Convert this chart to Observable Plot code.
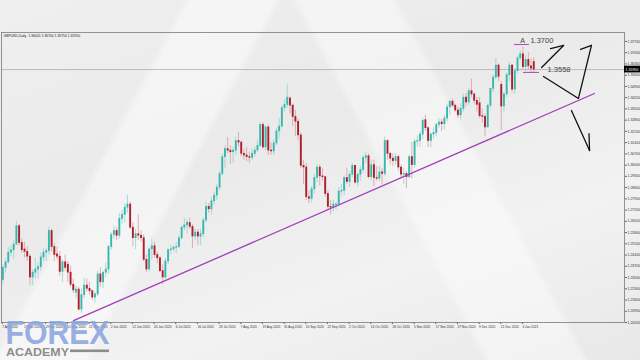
<!DOCTYPE html>
<html><head><meta charset="utf-8">
<script src="https://cdn.jsdelivr.net/npm/d3@7"></script>
<script src="https://cdn.jsdelivr.net/npm/@observablehq/plot@0.6"></script>
<style>
html,body{margin:0;padding:0;width:640px;height:360px;overflow:hidden;}
body{background:
 linear-gradient(118deg, rgba(255,255,255,0) 0%, rgba(255,255,255,0) 22%, rgba(255,255,255,0.45) 23%, rgba(255,255,255,0.45) 33%, rgba(255,255,255,0) 34%),
 linear-gradient(62deg, rgba(255,255,255,0) 58%, rgba(255,255,255,0.4) 59%, rgba(255,255,255,0.4) 70%, rgba(255,255,255,0) 71%),
 linear-gradient(160deg, #efefef 0%, #eaeaea 40%, #f2f2f2 70%, #e8e8e8 100%);
 font-family:"Liberation Sans",Arial,sans-serif;}
#chart{position:absolute;left:0;top:0;}
</style></head>
<body><div id="chart"></div>
<script>
// ---- GBPUSD Daily candles (index 0 = 7 Apr 2020 ... 196 = 8 Jan 2021) ----
const O = [1.2285,1.2360,1.2395,1.2455,1.2470,1.2505,1.2620,1.2515,1.2475,1.2460,1.2430,1.2300,1.2330,1.2350,1.2365,1.2425,1.2455,1.2465,1.2590,1.2490,
1.2445,1.2430,1.2335,1.2395,1.2380,1.2330,1.2255,1.2205,1.2225,1.2100,1.2190,1.2250,1.2230,1.2215,1.2175,1.2195,1.2320,1.2270,1.2330,1.2350,
1.2490,1.2565,1.2590,1.2560,1.2665,1.2690,1.2735,1.2755,1.2610,1.2545,1.2570,1.2560,1.2545,1.2410,1.2350,1.2475,1.2495,1.2440,1.2420,1.2340,
1.2300,1.2400,1.2470,1.2475,1.2485,1.2490,1.2545,1.2610,1.2625,1.2640,1.2615,1.2555,1.2580,1.2555,1.2570,1.2655,1.2740,1.2725,1.2775,1.2810,
1.2860,1.2945,1.3050,1.3100,1.3090,1.3080,1.3090,1.3150,1.3140,1.3070,1.3060,1.3050,1.3045,1.3070,1.3090,1.3120,1.3250,1.3110,1.3235,1.3090,
1.3085,1.3135,1.3210,1.3240,1.3355,1.3375,1.3415,1.3370,1.3300,1.3270,1.3185,1.2995,1.2985,1.2800,1.2790,1.2850,1.2920,1.2985,1.2930,1.2925,
1.2820,1.2740,1.2735,1.2750,1.2755,1.2835,1.2840,1.2920,1.2895,1.2940,1.2995,1.2890,1.2940,1.2970,1.3045,1.3055,1.2925,1.3000,1.2920,1.2915,
1.2955,1.2945,1.3150,1.3070,1.3040,1.3025,1.3050,1.2985,1.2940,1.2945,1.2925,1.3050,1.3000,1.3145,1.3150,1.3190,1.3280,1.3230,1.3150,1.3190,
1.3200,1.3250,1.3265,1.3255,1.3290,1.3360,1.3395,1.3370,1.3340,1.3310,1.3350,1.3420,1.3390,1.3460,1.3440,1.3400,1.3385,1.3305,1.3300,1.3235,
1.3370,1.3475,1.3545,1.3620,1.3500,1.3365,1.3440,1.3560,1.3620,1.3470,1.3585,1.3665,1.3690,1.3610,1.3655,1.3615,1.3642];
const H = [1.2380,1.2420,1.2490,1.2500,1.2530,1.2650,1.2630,1.2540,1.2520,1.2490,1.2440,1.2350,1.2420,1.2390,1.2450,1.2480,1.2480,1.2615,1.2600,1.2510,
1.2490,1.2460,1.2410,1.2440,1.2400,1.2370,1.2290,1.2245,1.2240,1.2230,1.2295,1.2290,1.2270,1.2225,1.2210,1.2340,1.2360,1.2340,1.2390,1.2500,
1.2580,1.2620,1.2610,1.2700,1.2715,1.2760,1.2812,1.2770,1.2640,1.2600,1.2690,1.2590,1.2565,1.2440,1.2485,1.2540,1.2520,1.2460,1.2430,1.2380,
1.2420,1.2480,1.2500,1.2500,1.2520,1.2560,1.2620,1.2670,1.2660,1.2670,1.2630,1.2600,1.2600,1.2600,1.2670,1.2770,1.2760,1.2800,1.2830,1.2880,
1.2960,1.3070,1.3120,1.3170,1.3120,1.3110,1.3175,1.3205,1.3150,1.3100,1.3110,1.3080,1.3100,1.3110,1.3150,1.3265,1.3265,1.3245,1.3250,1.3140,
1.3160,1.3230,1.3290,1.3370,1.3410,1.3505,1.3430,1.3380,1.3340,1.3285,1.3200,1.3030,1.3010,1.2840,1.2870,1.2940,1.3005,1.3000,1.2980,1.2930,
1.2840,1.2780,1.2780,1.2770,1.2860,1.2880,1.2935,1.2980,1.2960,1.3010,1.3000,1.2950,1.2990,1.3060,1.3080,1.3070,1.3030,1.3030,1.2990,1.2990,
1.2980,1.3175,1.3160,1.3080,1.3070,1.3070,1.3060,1.3000,1.2980,1.2960,1.3060,1.3140,1.3160,1.3180,1.3210,1.3290,1.3310,1.3240,1.3200,1.3230,
1.3260,1.3290,1.3285,1.3310,1.3380,1.3400,1.3410,1.3380,1.3360,1.3380,1.3440,1.3445,1.3480,1.3535,1.3450,1.3420,1.3420,1.3350,1.3320,1.3380,
1.3480,1.3560,1.3665,1.3630,1.3520,1.3450,1.3575,1.3640,1.3625,1.3600,1.3680,1.3710,1.3735,1.3680,1.3700,1.3660,1.3670];
const L = [1.2260,1.2330,1.2380,1.2430,1.2410,1.2500,1.2500,1.2450,1.2420,1.2400,1.2250,1.2250,1.2290,1.2290,1.2340,1.2400,1.2400,1.2440,1.2460,1.2400,
1.2410,1.2310,1.2270,1.2340,1.2270,1.2240,1.2200,1.2170,1.2090,1.2075,1.2170,1.2210,1.2190,1.2160,1.2140,1.2180,1.2240,1.2230,1.2300,1.2320,
1.2470,1.2540,1.2530,1.2540,1.2630,1.2640,1.2700,1.2600,1.2490,1.2475,1.2530,1.2520,1.2400,1.2330,1.2335,1.2410,1.2420,1.2385,1.2330,1.2255,
1.2285,1.2380,1.2440,1.2460,1.2450,1.2480,1.2530,1.2590,1.2570,1.2600,1.2480,1.2530,1.2500,1.2500,1.2550,1.2640,1.2700,1.2690,1.2750,1.2780,
1.2840,1.2930,1.2980,1.3070,1.3005,1.3010,1.3060,1.3110,1.3050,1.3030,1.3020,1.3010,1.3030,1.3050,1.3080,1.3110,1.3100,1.3090,1.3060,1.3060,
1.3060,1.3120,1.3160,1.3230,1.3330,1.3350,1.3320,1.3240,1.3180,1.3150,1.2980,1.2880,1.2780,1.2760,1.2765,1.2820,1.2890,1.2870,1.2900,1.2800,
1.2720,1.2690,1.2705,1.2720,1.2740,1.2800,1.2810,1.2880,1.2860,1.2920,1.2880,1.2865,1.2900,1.2950,1.3010,1.2915,1.2900,1.2865,1.2900,1.2900,
1.2875,1.2930,1.3030,1.3000,1.2990,1.3000,1.2965,1.2915,1.2880,1.2855,1.2915,1.2915,1.2980,1.3110,1.3110,1.3160,1.3210,1.3110,1.3110,1.3160,
1.3180,1.3230,1.3210,1.3220,1.3270,1.3310,1.3360,1.3330,1.3290,1.3280,1.3330,1.3360,1.3370,1.3420,1.3380,1.3330,1.3290,1.3260,1.3175,1.3230,
1.3350,1.3450,1.3530,1.3520,1.3215,1.3330,1.3420,1.3520,1.3450,1.3440,1.3570,1.3650,1.3590,1.3580,1.3590,1.3570,1.3575];
const C = [1.2360,1.2395,1.2455,1.2470,1.2505,1.2620,1.2515,1.2470,1.2460,1.2430,1.2300,1.2330,1.2350,1.2365,1.2425,1.2455,1.2465,1.2590,1.2490,1.2440,
1.2430,1.2335,1.2395,1.2360,1.2330,1.2255,1.2220,1.2225,1.2100,1.2190,1.2250,1.2230,1.2215,1.2175,1.2195,1.2320,1.2270,1.2330,1.2350,1.2490,
1.2565,1.2590,1.2560,1.2665,1.2690,1.2735,1.2755,1.2610,1.2545,1.2570,1.2560,1.2545,1.2410,1.2350,1.2475,1.2495,1.2440,1.2420,1.2340,1.2300,
1.2400,1.2470,1.2475,1.2485,1.2490,1.2545,1.2610,1.2625,1.2640,1.2615,1.2555,1.2580,1.2555,1.2570,1.2655,1.2740,1.2725,1.2775,1.2810,1.2860,
1.2945,1.3050,1.3100,1.3090,1.3080,1.3090,1.3150,1.3140,1.3070,1.3060,1.3050,1.3045,1.3070,1.3090,1.3120,1.3250,1.3110,1.3235,1.3090,1.3085,
1.3135,1.3210,1.3240,1.3355,1.3375,1.3420,1.3370,1.3300,1.3270,1.3185,1.2995,1.2985,1.2800,1.2790,1.2850,1.2920,1.2985,1.2930,1.2925,1.2820,
1.2740,1.2735,1.2755,1.2755,1.2835,1.2840,1.2920,1.2895,1.2940,1.2995,1.2890,1.2940,1.2970,1.3045,1.3055,1.2925,1.3000,1.2920,1.2915,1.2955,
1.2945,1.3150,1.3070,1.3040,1.3025,1.3050,1.2985,1.2940,1.2945,1.2925,1.3050,1.3000,1.3145,1.3150,1.3190,1.3275,1.3230,1.3150,1.3190,1.3200,
1.3250,1.3265,1.3255,1.3290,1.3360,1.3395,1.3370,1.3340,1.3310,1.3350,1.3420,1.3390,1.3460,1.3440,1.3400,1.3375,1.3305,1.3300,1.3235,1.3370,
1.3475,1.3545,1.3620,1.3550,1.3365,1.3440,1.3560,1.3620,1.3470,1.3585,1.3665,1.3690,1.3610,1.3655,1.3615,1.3600,1.3595];

// x-axis: bar index of each date label
const xTicks = [0,8,16,24,32,40,48,56,64,72,80,88,96,104,112,120,128,136,144,152,160,168,176,184,192];
const dateLabels = ["7 Apr 2020","17 Apr 2020","29 Apr 2020","11 May 2020","21 May 2020","2 Jun 2020","12 Jun 2020","24 Jun 2020","6 Jul 2020","16 Jul 2020","28 Jul 2020","7 Aug 2020","19 Aug 2020","31 Aug 2020","10 Sep 2020","22 Sep 2020","2 Oct 2020","14 Oct 2020","26 Oct 2020","5 Nov 2020","17 Nov 2020","27 Nov 2020","9 Dec 2020","21 Dec 2020","4 Jan 2021"];
// y-axis price ticks
const yTicks = [1.2020,1.2090,1.2160,1.2230,1.2300,1.2370,1.2440,1.2510,1.2580,1.2650,1.2720,1.2790,1.2860,1.2930,1.3000,1.3070,1.3140,1.3210,1.3280,1.3350,1.3420,1.3490,1.3560,1.3630,1.3700,1.3770];

// trend line (bar index, price)
const trendI = [26.1, 218.4];
const trendP = [1.2032, 1.3446];
// hand-drawn annotation levels
const levelA = {i1: 188.9, i2: 194.4, p: 1.3751, label: "1.3700"};
const levelB = {i1: 192.2, i2: 198.1, p: 1.3577, label: "1.3558"};
// hand-drawn arrows (bar index, price), one stroke per segment id
const arrowSeg = [0,0, 1,1, 2,2, 3,3, 4,4, 5,5, 6,6];
const arrowI = [198.9,207.0, 202.2,207.0, 199.6,212.5, 212.5,217.3, 213.3,217.3, 209.9,216.6, 216.4,216.6];
const arrowP = [1.3608,1.3745, 1.3726,1.3745, 1.3552,1.3415, 1.3415,1.3745, 1.3720,1.3745, 1.3340,1.3091, 1.3196,1.3091];

const bars = O.map((o, i) => ({i, o, h: H[i], l: L[i], c: C[i], up: C[i] >= o}));
const last = bars[bars.length - 1];
const trend = trendI.map((i, k) => ({i, p: trendP[k]}));
const arrows = arrowI.map((i, k) => ({i, p: arrowP[k], seg: arrowSeg[k]}));

const UP = "#37b8ae", DOWN = "#ad1f2c", UPW = "#93d3ce", DOWNW = "#dc9aa2";
const f5 = d => d.toFixed(5);

const chart = Plot.plot({
  width: 640, height: 360,
  marginTop: 32, marginBottom: 38, marginLeft: 1, marginRight: 16,
  style: {background: "transparent", fontFamily: "Liberation Sans, Arial, sans-serif", color: "#333"},
  x: {domain: [-0.5, 229.5], axis: null},
  y: {domain: [1.2020, 1.38257], axis: null},
  marks: [
    Plot.axisX({ticks: xTicks, tickFormat: d => dateLabels[xTicks.indexOf(d)], tickSize: 2, tickPadding: 1,
      textAnchor: "start", dx: -0.5, fontSize: 3.2, label: null, stroke: "#666", fill: "#333"}),
    Plot.axisY({anchor: "right", ticks: yTicks, tickFormat: f5, tickSize: 2, tickPadding: 1,
      fontSize: 3.5, label: null, stroke: "#666", fill: "#333"}),
    Plot.ruleY([last.c], {stroke: "#9a9a9a", strokeWidth: 0.6}),
    Plot.ruleX(bars, {x: "i", y1: "l", y2: "h", stroke: d => d.up ? UPW : DOWNW, strokeWidth: 0.8}),
    Plot.ruleX(bars, {x: "i", y1: d => Math.min(d.o, d.c) - 0.0002, y2: d => Math.max(d.o, d.c) + 0.0002,
      stroke: d => d.up ? UP : DOWN, strokeWidth: 1.9}),
    Plot.line(trend, {x: "i", y: "p", stroke: "#a43ab9", strokeWidth: 1.3}),
    Plot.ruleY([levelA], {x1: "i1", x2: "i2", y: "p", stroke: "#b84fc0", strokeWidth: 1.1}),
    Plot.ruleY([levelB], {x1: "i1", x2: "i2", y: "p", stroke: "#b84fc0", strokeWidth: 1.1}),
    Plot.text([levelA], {x: 191.9, y: "p", text: () => "A", dy: -4, fontSize: 7, fill: "#444"}),
    Plot.text([levelA], {x: "i2", y: "p", text: "label", dy: -4, dx: 1, textAnchor: "start", fontSize: 7.5, fill: "#444"}),
    Plot.text([levelB], {x: 201.1, y: "p", text: "label", dy: -3, textAnchor: "start", fontSize: 7.5, fill: "#444"}),
    Plot.line(arrows, {x: "i", y: "p", z: "seg", stroke: "#111", strokeWidth: 1.3, strokeLinecap: "round"}),
    Plot.frame({stroke: "#7a7a7a", strokeWidth: 0.8}),
    Plot.rect([last], {x1: 229.5, x2: 236.5, y1: d => d.c - 0.0021, y2: d => d.c + 0.0021, fill: "#000"}),
    Plot.text([last], {x: 229.9, y: "c", text: d => f5(d.c), textAnchor: "start", fontSize: 3.5, fill: "#fff"}),
    Plot.text([last], {frameAnchor: "top-left", text: d => `GBPUSD,Daily  ${f5(d.o)} ${f5(d.h)} ${f5(d.l)} ${f5(d.c)}`,
      dx: 2, dy: 2.5, fontSize: 3.4, fill: "#222"}),
    // logo
    Plot.text(["FOREX"], {frameAnchor: "bottom-left", text: d => d, dx: 4, dy: 21, lineAnchor: "bottom",
      fontSize: 34, fontWeight: "bold", fill: "#8aa5df", fillOpacity: 0.9}),
    Plot.text(["ACADEMY"], {frameAnchor: "bottom-left", text: d => d, dx: 4.5, dy: 33.5, lineAnchor: "bottom",
      fontSize: 11, fontWeight: "bold", fill: "#8d8d8d"})
  ]
});
document.getElementById("chart").appendChild(chart);

// stretch logo words to their widths and add the grey bar of the logo
const svg = d3.select(chart);
svg.selectAll("text").filter(function(){ return this.textContent === "FOREX"; })
  .attr("textLength", 104).attr("lengthAdjust", "spacingAndGlyphs");
svg.selectAll("text").filter(function(){ return this.textContent === "ACADEMY"; })
  .attr("textLength", 63).attr("lengthAdjust", "spacingAndGlyphs");
svg.append("rect").attr("x", 70).attr("y", 349.5).attr("width", 39).attr("height", 2.6).attr("fill", "#8d8d8d");
</script>
</body></html>
